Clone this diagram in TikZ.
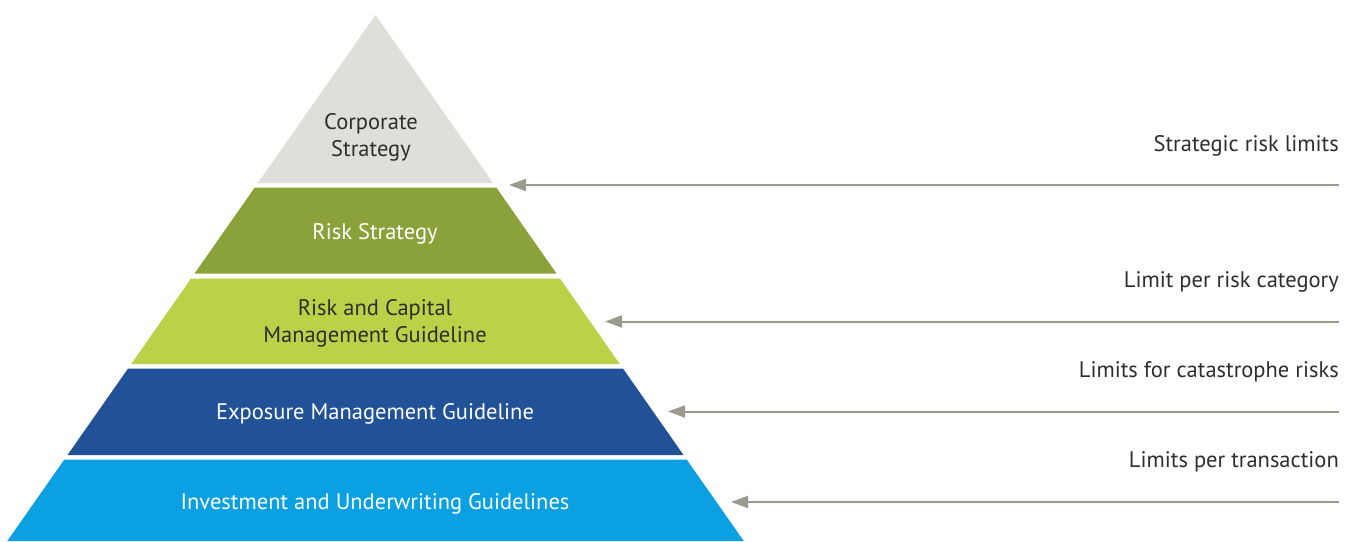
\documentclass[tikz,border=0pt]{standalone}
\usepackage{fontspec}
\setmainfont{PT Sans}
\usetikzlibrary{arrows.meta}
\definecolor{cgrey}{HTML}{DFDEDA}
\definecolor{colive}{HTML}{89A23A}
\definecolor{clime}{HTML}{BAD247}
\definecolor{cdblue}{HTML}{215196}
\definecolor{csky}{HTML}{0AA0E2}
\definecolor{carrow}{HTML}{9C998F}
\definecolor{ctext}{HTML}{2E2E2E}
\tikzset{
  layertext/.style={align=center, font=\fontsize{22.5}{27}\selectfont, inner sep=0pt},
  limtext/.style={anchor=east, font=\fontsize{22.5}{27}\selectfont, text=ctext, inner sep=0pt},
  limarrow/.style={draw=carrow, line width=2pt, -{Triangle[length=17pt,width=12pt]}},
}
\begin{document}
\begin{tikzpicture}[x=1pt,y=-1pt]
\useasboundingbox (0,0) rectangle (1354,541);
\fill[white] (0,0) rectangle (1354,541);
% layers of the pyramid
\fill[cgrey]  (375.5,15) -- (493.1,183) -- (257.9,183) -- cycle;
\fill[colive] (254.75,187.5) -- (496.25,187.5) -- (556.45,273.5) -- (194.55,273.5) -- cycle;
\fill[clime]  (191.05,278.5) -- (559.95,278.5) -- (619.8,364) -- (131.2,364) -- cycle;
\fill[cdblue] (128.05,368.5) -- (622.95,368.5) -- (683.5,455) -- (67.5,455) -- cycle;
\fill[csky]   (64.35,459.5) -- (686.65,459.5) -- (743.7,541) -- (7.3,541) -- cycle;
% layer texts
\node[layertext, text=ctext] (corp) at (371,137.5) {Corporate\\Strategy};
\node[layertext, text=white] (rs) at (375,233.5) {Risk Strategy};
\node[layertext, text=ctext] (rcmg) at (375,323.5) {Risk and Capital\\Management Guideline};
\node[layertext, text=white] (emg) at (375,413.5) {Exposure Management Guideline};
\node[layertext, text=white] (iug) at (375,503.5) {Investment and Underwriting Guidelines};
% limit labels
\node[limtext] (l1) at (1339,145.5) {Strategic risk limits};
\node[limtext] (l2) at (1339,281.5) {Limit per risk category};
\node[limtext] (l3) at (1339,371.5) {Limits for catastrophe risks};
\node[limtext] (l4) at (1339,461.5) {Limits per transaction};
% arrow ends
\coordinate (s1) at (1339,185);   \coordinate (t1) at (509,185);
\coordinate (s2) at (1339,321.5); \coordinate (t2) at (605,321.5);
\coordinate (s3) at (1339,411.5); \coordinate (t3) at (668,411.5);
\coordinate (s4) at (1339,502);   \coordinate (t4) at (731,502);
\draw[limarrow] (s1) -- (t1);
\draw[limarrow] (s2) -- (t2);
\draw[limarrow] (s3) -- (t3);
\draw[limarrow] (s4) -- (t4);
\end{tikzpicture}
\end{document}
